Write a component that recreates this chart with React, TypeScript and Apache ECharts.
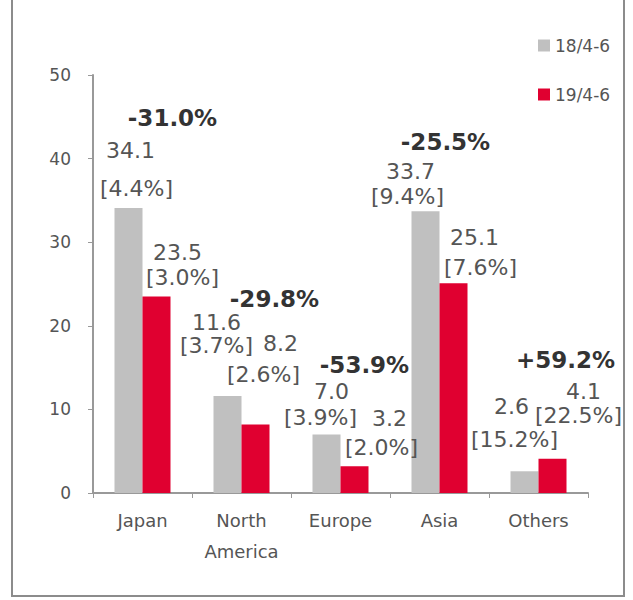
import React, { useEffect, useRef } from "react";
import * as echarts from "echarts";

const categories = ["Japan", "North\nAmerica", "Europe", "Asia", "Others"];
const seriesNames = ["18/4-6", "19/4-6"];
const prevValues = [34.1, 11.6, 7.0, 33.7, 2.6];
const prevShares = ["4.4%", "3.7%", "3.9%", "9.4%", "15.2%"];
const currValues = [23.5, 8.2, 3.2, 25.1, 4.1];
const currShares = ["3.0%", "2.6%", "2.0%", "7.6%", "22.5%"];
const changes = ["-31.0%", "-29.8%", "-53.9%", "-25.5%", "+59.2%"];
const yTicks = [0, 10, 20, 30, 40, 50];

// label offsets (styling only): [value label, share label, change label]
const prevOffsets = [
  [[2, -57], [8, -19], [44, -90]],
  [[-11, -74], [-11, -51], [47, -97]],
  [[5, -43], [-6, -17], [38, -69]],
  [[-15, -40], [-18, -15], [20, -69]],
  [[-13, -65], [-10, -32], [41, -111]],
];
const currOffsets = [
  [[21, -44], [26, -19]],
  [[25, -81], [8, -50]],
  [[35, -48], [27, -19]],
  [[21, -46], [27, -16]],
  [[31, -67], [26, -43]],
];

const FONT = "DejaVu Sans";
const valueLabel = { fontFamily: FONT, fontSize: 22, color: "#555" };
const changeLabel = { fontFamily: FONT, fontSize: 23, fontWeight: "bold", color: "#333" };

export default function App() {
  const ref = useRef<HTMLDivElement>(null);
  useEffect(() => {
    if (!ref.current) return;
    const chart = echarts.init(ref.current, null, { renderer: "svg" });

    const prevMarks: any[] = [];
    const currMarks: any[] = [];
    categories.forEach((c, i) => {
      prevMarks.push({
        coord: [c, prevValues[i]],
        label: { ...valueLabel, formatter: prevValues[i].toFixed(1), offset: prevOffsets[i][0] },
      });
      prevMarks.push({
        coord: [c, prevValues[i]],
        label: { ...valueLabel, formatter: "[" + prevShares[i] + "]", offset: prevOffsets[i][1] },
      });
      prevMarks.push({
        coord: [c, prevValues[i]],
        label: { ...changeLabel, formatter: changes[i], offset: prevOffsets[i][2] },
      });
      currMarks.push({
        coord: [c, currValues[i]],
        label: { ...valueLabel, formatter: currValues[i].toFixed(1), offset: currOffsets[i][0] },
      });
      currMarks.push({
        coord: [c, currValues[i]],
        label: { ...valueLabel, formatter: "[" + currShares[i] + "]", offset: currOffsets[i][1] },
      });
    });

    const markCommon = {
      symbol: "rect",
      symbolSize: 0,
      silent: true,
      itemStyle: { color: "rgba(0,0,0,0)" },
      label: { show: true, position: "inside" },
    };

    chart.setOption({
      animation: false,
      backgroundColor: "#fff",
      grid: { left: 93, top: 75, right: 45, bottom: 107 },
      legend: {
        orient: "vertical",
        left: 533,
        top: 32,
        itemWidth: 12,
        itemHeight: 12,
        itemGap: 32,
        icon: "rect",
        data: seriesNames,
        textStyle: { fontFamily: FONT, fontSize: 17, color: "#555" },
      },
      xAxis: {
        type: "category",
        data: categories,
        axisLine: { lineStyle: { color: "#999", width: 2 } },
        axisTick: { show: true, length: 5, lineStyle: { color: "#999" } },
        axisLabel: {
          fontFamily: FONT,
          fontSize: 18,
          color: "#555",
          margin: 12,
          lineHeight: 31,
          interval: 0,
        },
      },
      yAxis: {
        type: "value",
        min: yTicks[0],
        max: yTicks[yTicks.length - 1],
        interval: yTicks[1] - yTicks[0],
        splitLine: { show: false },
        axisLine: { show: true, lineStyle: { color: "#999", width: 2 } },
        axisTick: { show: true, length: 5, lineStyle: { color: "#999" } },
        axisLabel: { fontFamily: FONT, fontSize: 17, color: "#555", margin: 22 },
      },
      series: [
        {
          name: seriesNames[0],
          type: "bar",
          data: prevValues,
          barWidth: 28,
          barGap: "0%",
          itemStyle: { color: "#c0c0c0" },
          markPoint: { ...markCommon, data: prevMarks },
        },
        {
          name: seriesNames[1],
          type: "bar",
          data: currValues,
          barWidth: 28,
          barGap: "0%",
          itemStyle: { color: "#e00030" },
          markPoint: { ...markCommon, data: currMarks },
        },
      ],
      graphic: [
        {
          type: "rect",
          silent: true,
          z: 100,
          shape: { x: 12, y: -5, width: 612, height: 601 },
          style: { fill: "none", stroke: "#8c8c8c", lineWidth: 2 },
        },
      ],
    });
    return () => chart.dispose();
  }, []);
  return (
    <div
      ref={ref}
      style={{ position: "absolute", left: 0, top: 0, width: 633, height: 600 }}
    />
  );
}
